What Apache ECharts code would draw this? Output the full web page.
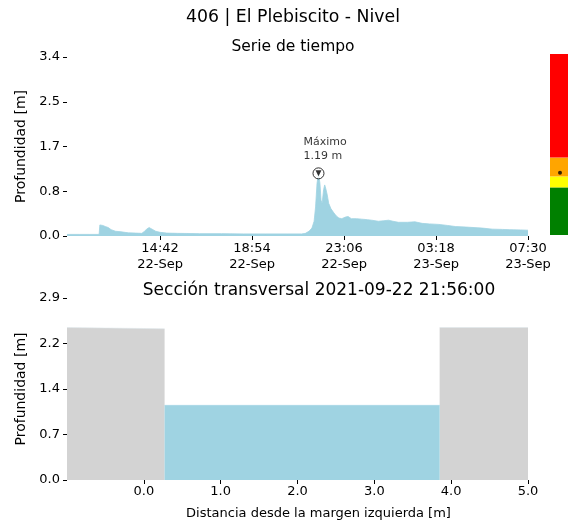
<!DOCTYPE html>
<html>
<head>
<meta charset="utf-8">
<script src="https://cdn.jsdelivr.net/npm/echarts@6/dist/echarts.min.js"></script>
<style>
  html, body { margin: 0; padding: 0; background: #fff; }
  #chart { width: 568px; height: 525px; }
</style>
</head>
<body>
<div id="chart"></div>
<script>
// serie de tiempo (nivel en m)
var levelTimes = [
  '2021-09-22 10:27', '2021-09-22 11:00', '2021-09-22 11:30', '2021-09-22 11:55', '2021-09-22 11:57',
  '2021-09-22 12:05', '2021-09-22 12:12', '2021-09-22 12:20', '2021-09-22 12:28', '2021-09-22 12:40',
  '2021-09-22 12:55', '2021-09-22 13:15', '2021-09-22 13:35', '2021-09-22 13:52', '2021-09-22 13:58',
  '2021-09-22 14:05', '2021-09-22 14:12', '2021-09-22 14:20', '2021-09-22 14:30', '2021-09-22 14:42',
  '2021-09-22 15:00', '2021-09-22 15:30', '2021-09-22 16:30', '2021-09-22 17:30', '2021-09-22 18:30',
  '2021-09-22 19:30', '2021-09-22 20:30', '2021-09-22 21:10', '2021-09-22 21:20', '2021-09-22 21:30',
  '2021-09-22 21:38', '2021-09-22 21:44', '2021-09-22 21:48', '2021-09-22 21:52', '2021-09-22 21:56',
  '2021-09-22 22:00', '2021-09-22 22:03', '2021-09-22 22:06', '2021-09-22 22:10', '2021-09-22 22:13',
  '2021-09-22 22:16', '2021-09-22 22:20', '2021-09-22 22:24', '2021-09-22 22:30', '2021-09-22 22:38',
  '2021-09-22 22:45', '2021-09-22 22:52', '2021-09-22 23:00', '2021-09-22 23:10', '2021-09-22 23:17',
  '2021-09-22 23:26', '2021-09-22 23:40', '2021-09-22 23:54', '2021-09-23 00:10', '2021-09-23 00:22',
  '2021-09-23 00:40', '2021-09-23 00:55', '2021-09-23 01:08', '2021-09-23 01:20', '2021-09-23 01:35',
  '2021-09-23 02:00', '2021-09-23 02:20', '2021-09-23 02:40', '2021-09-23 03:00', '2021-09-23 03:26',
  '2021-09-23 03:50', '2021-09-23 04:11', '2021-09-23 04:40', '2021-09-23 05:25', '2021-09-23 05:53',
  '2021-09-23 06:20', '2021-09-23 06:40', '2021-09-23 07:10', '2021-09-23 07:30'
];
var levels = [
  0.03, 0.03, 0.03, 0.03, 0.21,
  0.20, 0.18, 0.16, 0.12, 0.09,
  0.08, 0.06, 0.055, 0.05, 0.08,
  0.13, 0.16, 0.13, 0.09, 0.07,
  0.055, 0.05, 0.045, 0.045, 0.04,
  0.04, 0.04, 0.04, 0.05, 0.09,
  0.15, 0.28, 0.55, 1.0, 1.19,
  1.0, 0.68, 0.62, 0.88, 0.97,
  0.90, 0.78, 0.62, 0.52, 0.44,
  0.38, 0.34, 0.33, 0.36, 0.37,
  0.33, 0.33, 0.32, 0.31, 0.30,
  0.28, 0.29, 0.30, 0.28, 0.26,
  0.26, 0.27, 0.24, 0.23, 0.22,
  0.20, 0.18, 0.17, 0.15, 0.13,
  0.125, 0.12, 0.115, 0.11
];
var timeTicks = ['2021-09-22 14:42', '2021-09-22 18:54', '2021-09-22 23:06', '2021-09-23 03:18', '2021-09-23 07:30'];
var levelTicks = [0, 0.85, 1.7, 2.55, 3.4];
var maxTime = '2021-09-22 21:56';
var maxLevel = 1.19;

// umbrales de alerta (m) y colores
var alertLimits = [0.91, 1.12, 1.48, 3.46];
var alertColors = ['#008000', '#ffff00', '#ffa500', '#ff0000'];

// sección transversal
var leftBankX = [-1.0, 0.27];
var leftBankY = [2.43, 2.41];
var rightBankX = [3.85, 5.0];
var rightBankY = [2.43, 2.43];
var waterX = [0.27, 3.85];
var sectionXTicks = [0, 1, 2, 3, 4, 5];
var sectionYTicks = [0, 0.725, 1.45, 2.175, 2.9];

var months = ['Jan', 'Feb', 'Mar', 'Apr', 'May', 'Jun', 'Jul', 'Aug', 'Sep', 'Oct', 'Nov', 'Dec'];
function pad(n) { return (n < 10 ? '0' : '') + n; }
function ts(s) { return +echarts.time.parse(s); }

var FONT = 'DejaVu Sans';
var BLUE = '#9fd3e2';
var GRAY = '#d3d3d3';

var chart = echarts.init(document.getElementById('chart'));

var bandSegments = alertLimits.map(function (v, i) { return i === 0 ? v : v - alertLimits[i - 1]; });

var axisLabelBase = { color: '#000', fontFamily: FONT, fontSize: 13, margin: 5 };
var axisTickBase = { show: true, length: 4, lineStyle: { color: '#000', width: 1 } };
var noLine = { show: false, onZero: false };

var option = {
  animation: false,
  textStyle: { fontFamily: FONT },
  title: [
    { text: '406 | El Plebiscito - Nivel', left: 288, top: 4, textAlign: 'center',
      textStyle: { fontFamily: FONT, fontSize: 17.3, fontWeight: 'normal', color: '#000' } },
    { text: 'Serie de tiempo', left: 288, top: 34, textAlign: 'center',
      textStyle: { fontFamily: FONT, fontSize: 15.5, fontWeight: 'normal', color: '#000' } },
    { text: 'Sección transversal 2021-09-22 21:56:00', left: 314, top: 277, textAlign: 'center',
      textStyle: { fontFamily: FONT, fontSize: 17, fontWeight: 'normal', color: '#000' } }
  ],
  grid: [
    { left: 67, top: 57, width: 461, height: 179 },
    { left: 67, top: 298, width: 461, height: 182 },
    { left: 550, top: 54, width: 20, height: 181 }
  ],
  xAxis: [
    {
      type: 'value', gridIndex: 0,
      min: ts(levelTimes[0]), max: ts(levelTimes[levelTimes.length - 1]),
      axisLine: noLine, splitLine: { show: false },
      axisTick: Object.assign({}, axisTickBase, { customValues: timeTicks.map(ts) }),
      axisLabel: Object.assign({}, axisLabelBase, {
        customValues: timeTicks.map(ts),
        lineHeight: 16,
        hideOverlap: false,
        formatter: function (v) {
          var d = new Date(v);
          return pad(d.getHours()) + ':' + pad(d.getMinutes()) + '\n' + pad(d.getDate()) + '-' + months[d.getMonth()];
        }
      })
    },
    {
      type: 'value', gridIndex: 1, min: -1, max: 5,
      name: 'Distancia desde la margen izquierda [m]', nameLocation: 'middle', nameGap: 27,
      nameTextStyle: { fontFamily: FONT, fontSize: 13, color: '#000', padding: [0, 0, 0, 42] },
      axisLine: noLine, splitLine: { show: false },
      axisTick: Object.assign({}, axisTickBase, { customValues: sectionXTicks }),
      axisLabel: Object.assign({}, axisLabelBase, {
        customValues: sectionXTicks,
        formatter: function (v) { return v.toFixed(1); }
      })
    },
    { type: 'category', gridIndex: 2, data: ['nivel'], show: false }
  ],
  yAxis: [
    {
      type: 'value', gridIndex: 0, min: 0, max: 3.4,
      name: 'Profundidad [m]', nameLocation: 'middle', nameGap: 33,
      nameTextStyle: { fontFamily: FONT, fontSize: 14, color: '#000' },
      axisLine: noLine, splitLine: { show: false },
      axisTick: Object.assign({}, axisTickBase, { customValues: levelTicks }),
      axisLabel: Object.assign({}, axisLabelBase, {
        customValues: levelTicks, margin: 7,
        formatter: function (v) { return v.toFixed(1); }
      })
    },
    {
      type: 'value', gridIndex: 1, min: 0, max: 2.9,
      name: 'Profundidad [m]', nameLocation: 'middle', nameGap: 33,
      nameTextStyle: { fontFamily: FONT, fontSize: 14, color: '#000' },
      axisLine: noLine, splitLine: { show: false },
      axisTick: Object.assign({}, axisTickBase, { customValues: sectionYTicks }),
      axisLabel: Object.assign({}, axisLabelBase, {
        customValues: sectionYTicks, margin: 7,
        formatter: function (v) { return v.toFixed(1); }
      })
    },
    { type: 'value', gridIndex: 2, min: 0, max: alertLimits[alertLimits.length - 1], show: false }
  ],
  series: [
    {
      type: 'line', xAxisIndex: 0, yAxisIndex: 0,
      data: levelTimes.map(function (t, i) { return [ts(t), levels[i]]; }),
      showSymbol: false, lineStyle: { width: 0.8, color: BLUE }, areaStyle: { color: BLUE, opacity: 1 }
    },
    {
      type: 'scatter', xAxisIndex: 0, yAxisIndex: 0, z: 5,
      data: [[ts(maxTime), maxLevel]],
      symbol: 'circle', symbolSize: 11,
      itemStyle: { color: '#fff', borderColor: '#000', borderWidth: 1 },
      label: {
        show: true, position: 'top', distance: 4, align: 'left', offset: [-15, 0],
        formatter: 'Máximo\n' + maxLevel.toFixed(2) + ' m',
        fontFamily: FONT, fontSize: 11, color: '#000', lineHeight: 14
      }
    },
    {
      type: 'scatter', xAxisIndex: 0, yAxisIndex: 0, z: 6,
      data: [[ts(maxTime), maxLevel]],
      symbol: 'triangle', symbolRotate: 180, symbolSize: 6,
      itemStyle: { color: '#000' }
    },
    // sección
    {
      type: 'line', xAxisIndex: 1, yAxisIndex: 1, showSymbol: false,
      data: leftBankX.map(function (x, i) { return [x, leftBankY[i]]; }),
      lineStyle: { width: 0.5, color: '#dce6ea' }, areaStyle: { color: GRAY, opacity: 1 }
    },
    {
      type: 'line', xAxisIndex: 1, yAxisIndex: 1, showSymbol: false,
      data: rightBankX.map(function (x, i) { return [x, rightBankY[i]]; }),
      lineStyle: { width: 0.5, color: '#dce6ea' }, areaStyle: { color: GRAY, opacity: 1 }
    },
    {
      type: 'line', xAxisIndex: 1, yAxisIndex: 1, showSymbol: false,
      data: waterX.map(function (x) { return [x, maxLevel]; }),
      lineStyle: { width: 0.5, color: BLUE }, areaStyle: { color: BLUE, opacity: 1 }
    }
  ]
};

// barra de alertas
alertColors.forEach(function (c, i) {
  option.series.push({
    type: 'bar', xAxisIndex: 2, yAxisIndex: 2, stack: 'alerta',
    barWidth: '100%', data: [bandSegments[i]], itemStyle: { color: c }
  });
});
option.series.push({
  type: 'scatter', xAxisIndex: 2, yAxisIndex: 2, z: 5,
  data: [['nivel', maxLevel]], symbol: 'circle', symbolSize: 4, symbolOffset: [1, 0],
  itemStyle: { color: '#000' }
});

chart.setOption(option);
</script>
</body>
</html>
